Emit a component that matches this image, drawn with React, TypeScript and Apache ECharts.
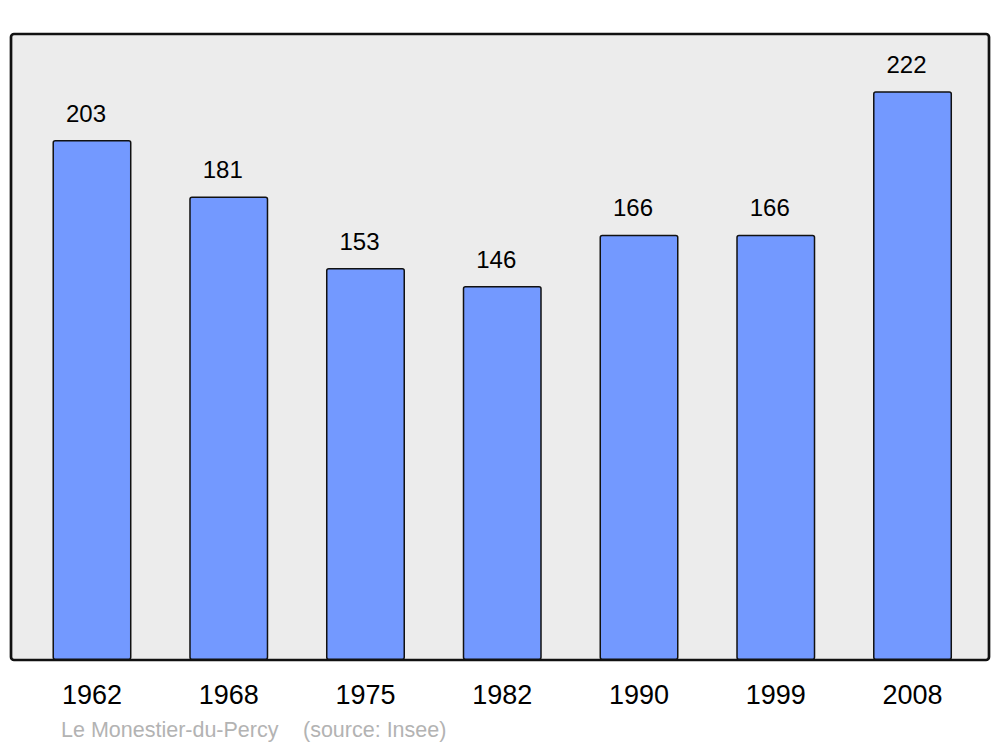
import React, { useEffect, useRef } from "react";
import * as echarts from "echarts";

const years = ["1962", "1968", "1975", "1982", "1990", "1999", "2008"];
const population = [203, 181, 153, 146, 166, 166, 222];
const placeName = "Le Monestier-du-Percy";
const sourceText = "(source: Insee)";

export default function App() {
  const ref = useRef<HTMLDivElement>(null);
  useEffect(() => {
    if (!ref.current) return;
    const chart = echarts.init(ref.current, null, { renderer: "svg" });
    const font = "'Liberation Sans', Arial, sans-serif";
    chart.setOption({
      animation: false,
      backgroundColor: "#ffffff",
      graphic: [
        {
          type: "rect",
          z: 0,
          shape: { x: 11, y: 34, width: 978, height: 626, r: 3 },
          style: { fill: "#ececec", stroke: "#111111", lineWidth: 2.7 },
        },
        {
          type: "text",
          x: 61,
          y: 730,
          style: {
            text: placeName,
            fill: "#b3b3b3",
            font: `21.5px ${font}`,
            verticalAlign: "middle",
          },
        },
        {
          type: "text",
          x: 303,
          y: 730,
          style: {
            text: sourceText,
            fill: "#b3b3b3",
            font: `21.5px ${font}`,
            verticalAlign: "middle",
          },
        },
      ],
      grid: { left: 23.6, width: 957.3, top: 34, height: 626, containLabel: false },
      xAxis: {
        type: "category",
        data: years,
        axisLine: { show: false },
        axisTick: { show: false },
        axisLabel: { color: "#000", fontSize: 27, fontFamily: font, margin: 21 },
      },
      yAxis: {
        type: "value",
        min: 0,
        max: 244.4,
        show: false,
        splitLine: { show: false },
      },
      series: [
        {
          type: "bar",
          data: population,
          barWidth: 79,
          z: 2,
          itemStyle: {
            color: "#7399ff",
            borderColor: "#111111",
            borderWidth: 1.5,
            borderRadius: 2,
          },
          label: {
            show: true,
            position: "top",
            distance: 15,
            offset: [-6, 0],
            color: "#000",
            fontSize: 24,
            fontFamily: font,
          },
        },
      ],
    });
    return () => chart.dispose();
  }, []);
  return (
    <div
      ref={ref}
      style={{ position: "fixed", left: 0, top: 0, width: 1000, height: 747 }}
    />
  );
}
